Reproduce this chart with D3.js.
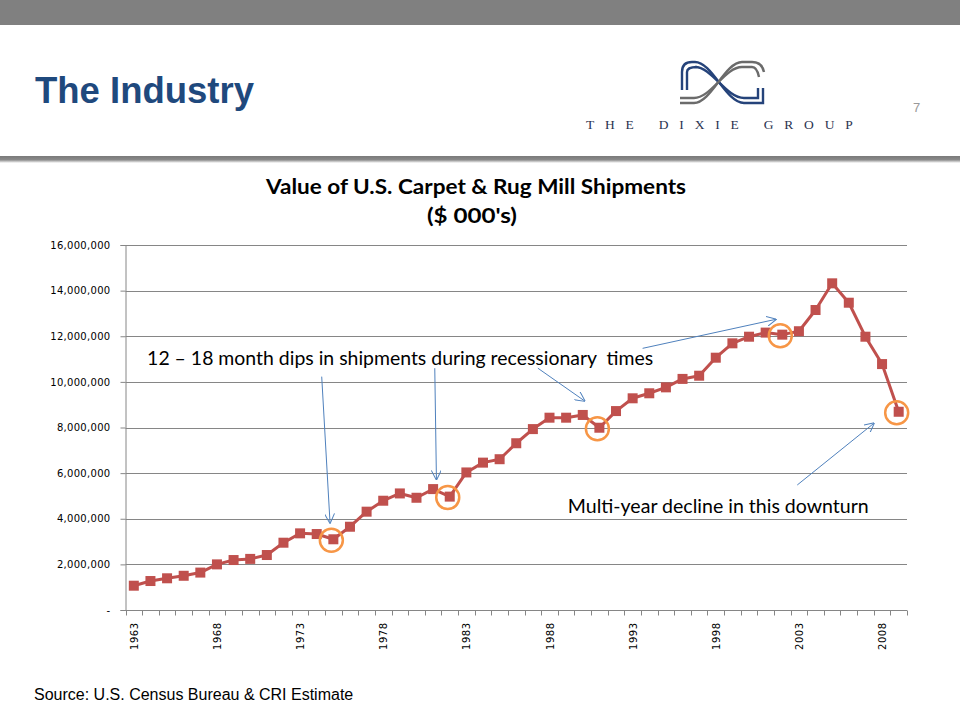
<!DOCTYPE html>
<html>
<head>
<meta charset="utf-8">
<script src="https://cdn.jsdelivr.net/npm/d3@7"></script>
<style>
  body { margin: 0; background: #fff; }
  svg { display: block; }
</style>
</head>
<body>
<svg id="chart" width="960" height="720"></svg>
<script>
// years and shipment values ($000's)
var years = d3.range(1963, 2010);
var values = [
  1065000, 1270000, 1390000, 1500000, 1640000, 2000000, 2190000, 2240000, 2410000, 2950000,
  3360000, 3330000, 3100000, 3650000, 4310000, 4790000, 5110000, 4920000, 5300000, 4970000,
  6030000, 6460000, 6610000, 7310000, 7930000, 8430000, 8430000, 8550000, 7990000, 8720000,
  9280000, 9500000, 9760000, 10130000, 10270000, 11060000, 11690000, 11980000, 12160000, 12070000,
  12220000, 13150000, 14320000, 13470000, 11980000, 10780000, 8690000
];
var yTicks = [0, 2000000, 4000000, 6000000, 8000000, 10000000, 12000000, 14000000, 16000000];
var xLabelYears = [1963, 1968, 1973, 1978, 1983, 1988, 1993, 1998, 2003, 2008];
var circledYears = [1975, 1982, 1991, 2002, 2009];

// arrows in data units: [fromYear, fromValue, toYear, toValue]
var arrows = [
  [1974.3, 10230000, 1974.8, 3830000],
  [1981.1, 10600000, 1981.2, 5730000],
  [1987.3, 10600000, 1990.1, 9170000],
  [1993.6, 11470000, 2001.6, 12740000],
  [2002.9, 5480000, 2007.5, 8180000]
];
var notes = [
  {text: "12 \u2013 18 month dips in shipments during recessionary  times", year: 1963.8, value: 10750000, len: 506},
  {text: "Multi-year decline in this downturn", year: 1989.1, value: 4240000, len: 301}
];

var svg = d3.select("#chart");
var defs = svg.append("defs");

// slide header
svg.append("rect").attr("x", 0).attr("y", 0).attr("width", 960).attr("height", 25).attr("fill", "#808080");
var shadow = defs.append("linearGradient").attr("id", "sh").attr("x1", 0).attr("x2", 0).attr("y1", 0).attr("y2", 1);
shadow.append("stop").attr("offset", "0%").attr("stop-color", "#7a7a7a");
shadow.append("stop").attr("offset", "55%").attr("stop-color", "#8a8a8a");
shadow.append("stop").attr("offset", "100%").attr("stop-color", "#ffffff");
svg.append("rect").attr("x", 0).attr("y", 156).attr("width", 960).attr("height", 7).attr("fill", "url(#sh)");

svg.append("text").attr("x", 35).attr("y", 103)
  .style("font-family", "Liberation Sans, Arial, sans-serif").style("font-weight", "bold")
  .style("font-size", "36.5px").attr("fill", "#1f497d").text("The Industry");

svg.append("text").attr("x", 913).attr("y", 112)
  .style("font-family", "Liberation Sans, Arial, sans-serif").style("font-size", "13px")
  .attr("fill", "#999").text("7");

// logo
var logo = svg.append("g").attr("fill", "none").attr("stroke-width", 2.4).attr("stroke-linecap", "butt");
[0, 5].forEach(function (o) {
  logo.append("path")
    .attr("d", "M" + (682 + o) + ",90 L" + (682 + o) + ",72 Q" + (682 + o) + "," + (62 + o) + " " + (692 + o) + "," + (62 + o) +
      " L695," + (62 + o) + " C712," + (62 + o) + " 726," + (103 - o) + " 744," + (103 - o) +
      " L" + (763 - o) + "," + (103 - o) + " L" + (763 - o) + ",88")
    .attr("stroke", "#25437a");
  logo.append("path")
    .attr("d", "M680," + (103 - o) + " L694," + (103 - o) + " C711," + (103 - o) + " 725," + (62 + o) + " 742," + (62 + o) +
      " L752," + (62 + o) + " Q" + (762 - o) + "," + (62 + o) + " " + (764 - o) + "," + (72 + o))
    .attr("stroke", "#6b6b6b");
});
svg.append("text").attr("x", 586).attr("y", 129)
  .style("font-family", "Liberation Serif, Times New Roman, serif").style("font-size", "13.5px")
  .style("letter-spacing", "10.8px").attr("fill", "#2b3350").text("THE DIXIE GROUP");

// chart title
svg.append("text").attr("x", 266).attr("y", 194)
  .attr("textLength", 420).attr("lengthAdjust", "spacingAndGlyphs")
  .style("font-family", "Lato, Open Sans, sans-serif").style("font-weight", "bold").style("font-size", "21px")
  .attr("fill", "#000").text("Value of U.S. Carpet & Rug Mill Shipments");
svg.append("text").attr("x", 427).attr("y", 223)
  .attr("textLength", 90).attr("lengthAdjust", "spacingAndGlyphs")
  .style("font-family", "Lato, Open Sans, sans-serif").style("font-weight", "bold").style("font-size", "21px")
  .attr("fill", "#000").text("($ 000's)");

// scales
var plotLeft = 125.5, plotRight = 907, plotTop = 245, plotBottom = 610;
var x = d3.scaleBand().domain(years).range([plotLeft, plotRight]);
var xc = function (yr) { return x(years[0]) + (yr - years[0]) * x.step() + x.bandwidth() / 2; };
var y = d3.scaleLinear().domain([0, 16000000]).range([plotBottom, plotTop]);

// gridlines
svg.append("g").selectAll("line").data(yTicks.slice(1)).enter().append("line")
  .attr("x1", plotLeft).attr("x2", plotRight)
  .attr("y1", function (d) { return Math.round(y(d)) + 0.5; })
  .attr("y2", function (d) { return Math.round(y(d)) + 0.5; })
  .attr("stroke", "#868686").attr("stroke-width", 1);

// y axis
var yAxis = svg.append("g").attr("transform", "translate(" + plotLeft + ",0)")
  .call(d3.axisLeft(y).tickValues(yTicks).tickSize(5).tickPadding(10)
    .tickFormat(function (d) { return d === 0 ? "-" : d3.format(",")(d); }));
yAxis.select(".domain").attr("stroke", "#868686");
yAxis.selectAll(".tick line").attr("stroke", "#868686");
yAxis.selectAll("text").style("font-family", "DejaVu Sans, Verdana, sans-serif").style("font-size", "10px")
  .style("letter-spacing", "0.3px").attr("fill", "#000");

// x axis: ticks between categories
var xAxisG = svg.append("g").attr("transform", "translate(0," + (plotBottom + 0.5) + ")");
xAxisG.append("line").attr("x1", plotLeft).attr("x2", plotRight).attr("stroke", "#868686");
xAxisG.selectAll(".tk").data(years.concat([years[years.length - 1] + 1])).enter().append("line")
  .attr("x1", function (d, i) { return Math.round(plotLeft + i * x.step()) + 0.5; })
  .attr("x2", function (d, i) { return Math.round(plotLeft + i * x.step()) + 0.5; })
  .attr("y1", 0).attr("y2", 5).attr("stroke", "#868686");
xAxisG.selectAll(".lb").data(xLabelYears).enter().append("text")
  .attr("transform", function (d) { return "translate(" + (xc(d) + 4) + ",12) rotate(-90)"; })
  .attr("text-anchor", "end")
  .style("font-family", "DejaVu Sans, Verdana, sans-serif").style("font-size", "10px")
  .style("letter-spacing", "0.5px").attr("fill", "#000").text(function (d) { return d; });

// series line and markers
var pts = years.map(function (yr, i) { return [xc(yr), y(values[i])]; });
svg.append("path").datum(pts)
  .attr("d", d3.line())
  .attr("fill", "none").attr("stroke", "#c0504d").attr("stroke-width", 3).attr("stroke-linejoin", "round");
svg.append("g").selectAll("rect").data(pts).enter().append("rect")
  .attr("x", function (d) { return d[0] - 5; }).attr("y", function (d) { return d[1] - 5; })
  .attr("width", 10).attr("height", 10).attr("fill", "#c0504d");

// orange circles around dips
svg.append("g").selectAll("circle").data(circledYears).enter().append("circle")
  .attr("cx", function (d) { return xc(d) - 2; })
  .attr("cy", function (d) { return y(values[years.indexOf(d)]) + 1; })
  .attr("r", 11.5).attr("fill", "none").attr("stroke", "#f79646").attr("stroke-width", 2.5);

// annotation arrows
var marker = defs.append("marker").attr("id", "ah")
  .attr("viewBox", "0 0 10 10").attr("refX", 9).attr("refY", 5)
  .attr("markerWidth", 10).attr("markerHeight", 10).attr("markerUnits", "userSpaceOnUse").attr("orient", "auto");
marker.append("path").attr("d", "M0,0 L10,5 L0,10").attr("fill", "none").attr("stroke", "#4f81bd").attr("stroke-width", 1);
svg.append("g").selectAll("line").data(arrows).enter().append("line")
  .attr("x1", function (d) { return xc(d[0]); }).attr("y1", function (d) { return y(d[1]); })
  .attr("x2", function (d) { return xc(d[2]); }).attr("y2", function (d) { return y(d[3]); })
  .attr("stroke", "#4f81bd").attr("stroke-width", 1).attr("marker-end", "url(#ah)");

svg.append("g").selectAll("text").data(notes).enter().append("text")
  .attr("x", function (d) { return xc(d.year); }).attr("y", function (d) { return y(d.value); })
  .attr("textLength", function (d) { return d.len; }).attr("lengthAdjust", "spacingAndGlyphs")
  .style("font-family", "Lato, Open Sans, sans-serif").style("font-size", "19.5px")
  .attr("fill", "#000").style("white-space", "pre").text(function (d) { return d.text; });

// source
svg.append("text").attr("x", 34).attr("y", 700)
  .style("font-family", "Liberation Sans, Arial, sans-serif").style("font-size", "16px")
  .attr("fill", "#000").text("Source: U.S. Census Bureau & CRI Estimate");
</script>
</body>
</html>
